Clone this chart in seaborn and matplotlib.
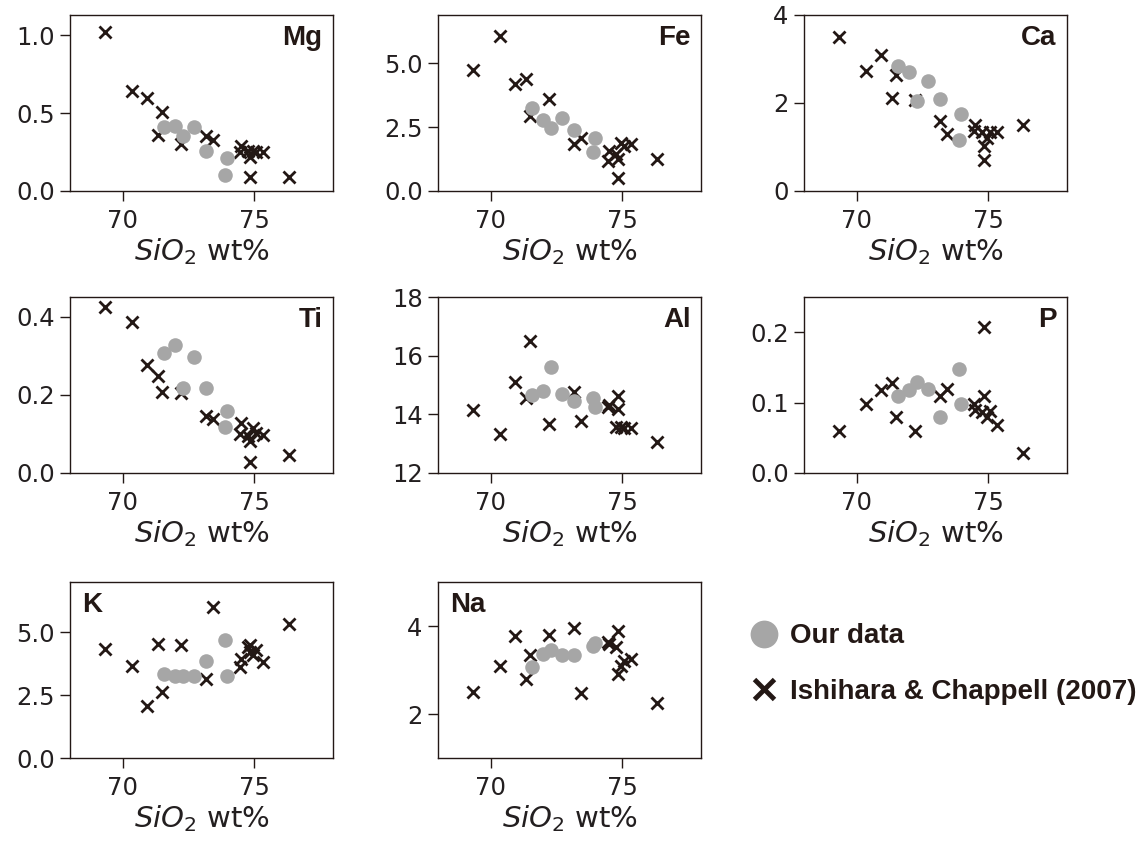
import numpy as np
import pandas as pd
import seaborn as sns
import matplotlib
matplotlib.use("Agg")
import matplotlib.pyplot as plt
from matplotlib.lines import Line2D
from matplotlib.ticker import MultipleLocator

# ---------------- data ----------------
elements = ["Mg", "Fe", "Ca", "Ti", "Al", "P", "K", "Na"]

ich_sio2 = [69.34, 70.36, 70.92, 71.34, 71.50, 72.23, 73.16, 73.44, 74.45, 74.49,
            74.77, 74.84, 74.84, 74.96, 75.09, 75.32, 76.34]
ich_mg = [1.02, 0.64, 0.60, 0.36, 0.51, 0.30, 0.35, 0.33, 0.25, 0.29, 0.26, 0.22, 0.09, 0.26, 0.25, 0.25, 0.09]
ich_fe = [4.76, 6.09, 4.21, 4.39, 2.94, 3.59, 1.86, 2.07, 1.18, 1.57, 1.44, 1.25, 0.51, 1.90, 1.77, 1.83, 1.27]
ich_ca = [3.49, 2.72, 3.08, 2.12, 2.63, 2.06, 1.60, 1.30, 1.36, 1.51, 1.33, 1.02, 0.71, 1.21, 1.33, 1.33, 1.49]
ich_ti = [0.425, 0.387, 0.277, 0.247, 0.208, 0.205, 0.146, 0.137, 0.099, 0.129, 0.095, 0.082, 0.027,
          0.116, 0.103, 0.097, 0.047]
ich_al = [14.14, 13.32, 15.11, 14.57, 16.49, 13.68, 14.77, 13.77, 14.25, 14.32, 13.57, 14.17, 14.62,
          13.57, 13.55, 13.53, 13.07]
ich_p = [0.059, 0.098, 0.118, 0.128, 0.079, 0.059, 0.109, 0.119, 0.098, 0.089, 0.086, 0.208, 0.109,
         0.080, 0.088, 0.068, 0.028]
ich_k = [4.35, 3.64, 2.05, 4.55, 2.64, 4.51, 3.15, 6.01, 3.61, 3.95, 4.41, 4.21, 4.48, 4.08, 4.28, 3.81, 5.31]
ich_na = [2.51, 3.10, 3.77, 2.80, 3.33, 3.79, 3.96, 2.48, 3.64, 3.58, 3.52, 3.88, 2.91, 3.10, 3.20, 3.24, 2.25]

our_sio2 = [71.59, 72.01, 72.29, 72.70, 73.18, 73.98, 73.88]
our_mg = [0.41, 0.42, 0.35, 0.41, 0.26, 0.215, 0.10]
our_fe = [3.26, 2.77, 2.46, 2.85, 2.38, 2.07, 1.53]
our_ca = [2.85, 2.70, 2.04, 2.51, 2.09, 1.74, 1.15]
our_ti = [0.307, 0.328, 0.218, 0.297, 0.218, 0.158, 0.118]
our_al = [14.65, 14.79, 15.60, 14.68, 14.45, 14.25, 14.54]
our_p = [0.109, 0.118, 0.129, 0.119, 0.079, 0.098, 0.148]
our_k = [3.35, 3.28, 3.25, 3.28, 3.84, 3.25, 4.68]
our_na = [3.06, 3.37, 3.45, 3.33, 3.33, 3.62, 3.54]

ich_vals = dict(Mg=ich_mg, Fe=ich_fe, Ca=ich_ca, Ti=ich_ti, Al=ich_al, P=ich_p, K=ich_k, Na=ich_na)
our_vals = dict(Mg=our_mg, Fe=our_fe, Ca=our_ca, Ti=our_ti, Al=our_al, P=our_p, K=our_k, Na=our_na)

y_limits = dict(Mg=(0, 1.13), Fe=(0, 6.9), Ca=(0, 4.0), Ti=(0, 0.45), Al=(12, 18), P=(0, 0.25),
                K=(0, 7.0), Na=(1, 5))
y_steps = dict(Mg=0.5, Fe=2.5, Ca=2, Ti=0.2, Al=2, P=0.1, K=2.5, Na=2)
x_ticks = [70, 75]

label_ours = "Our data"
label_ich = "Ishihara & Chappell (2007)"

rows = []
for el in elements:
    for x, v in zip(ich_sio2, ich_vals[el]):
        rows.append((el, label_ich, x, v))
    for x, v in zip(our_sio2, our_vals[el]):
        rows.append((el, label_ours, x, v))
df = pd.DataFrame(rows, columns=["element", "source", "sio2", "value"])

# ---------------- figure ----------------
sns.set_style("ticks")
plt.rcParams["font.family"] = ["DejaVu Sans"]
plt.rcParams["axes.edgecolor"] = "#231f20"
plt.rcParams["axes.linewidth"] = 1.0

W, H = 1146, 841
fig = plt.figure(figsize=(W / 100, H / 100), dpi=100)

col_left = [70, 438, 804]
row_top = [15, 297, 582]
aw, ah = 263, 176

grey = "#a6a6a6"
black = "#231815"

for i, el in enumerate(elements):
    r, c = divmod(i, 3)
    ax = fig.add_axes([col_left[c] / W, 1 - (row_top[r] + ah) / H, aw / W, ah / H])
    sub = df[df["element"] == el]
    sns.scatterplot(data=sub[sub["source"] == label_ich], x="sio2", y="value", marker="x",
                    color=black, s=75, linewidth=2.0, ax=ax, zorder=2, legend=False)
    sns.scatterplot(data=sub[sub["source"] == label_ours], x="sio2", y="value", marker="o",
                    color=grey, s=110, linewidth=0, ax=ax, zorder=3, legend=False)
    ax.set_xlim(68, 78)
    ax.set_ylim(*y_limits[el])
    ax.set_xticks(x_ticks)
    ax.yaxis.set_major_locator(MultipleLocator(y_steps[el]))
    ax.tick_params(axis="both", which="major", length=7, width=1.0, labelsize=17.5,
                   color=black, labelcolor="#231f20", pad=4)
    ax.tick_params(axis="x", pad=6)
    ax.set_xlabel(r"$SiO_2$ wt%", fontsize=21, color="#231f20", labelpad=2)
    ax.set_ylabel("")
    for sp in ax.spines.values():
        sp.set_visible(True)
        sp.set_color(black)
    if el in ("K", "Na"):
        ax.text(0.045, 0.945, el, transform=ax.transAxes, ha="left", va="top",
                fontsize=20, fontweight="bold", family="Liberation Sans", color=black)
    else:
        ax.text(0.96, 0.945, el, transform=ax.transAxes, ha="right", va="top",
                fontsize=20, fontweight="bold", family="Liberation Sans", color=black)

handles = [
    Line2D([], [], ls="", marker="o", color=grey, markersize=20, markeredgewidth=0),
    Line2D([], [], ls="", marker="x", color=black, markersize=15, markeredgewidth=3.5),
]
fig.legend(handles, [label_ours, label_ich], loc="center left",
           bbox_to_anchor=(725 / W, 1 - 664 / H), frameon=False,
           prop=dict(family="Liberation Sans", weight="bold", size=20),
           handlelength=1.0, handletextpad=0.45, labelspacing=1.05, labelcolor=black)

fig.savefig("out.png", dpi=100)
